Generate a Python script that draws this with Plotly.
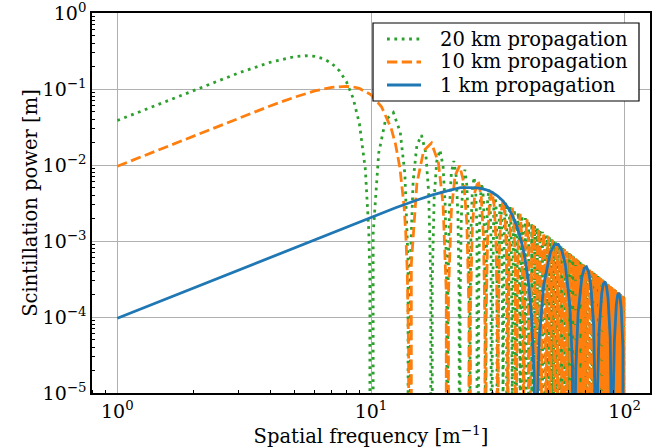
import plotly.graph_objects as go

# ---------------- data ----------------
series_names = ["20 km propagation", "10 km propagation", "1 km propagation"]
series_colors = ["#2ca02c", "#ff7f0e", "#1f77b4"]

green_freq = [
    1.0, 1.5, 2.0, 3.0, 4.0, 5.0, 5.5, 6.0, 6.5, 7.0, 7.5, 8.0, 8.5, 9.0, 9.5, 9.7, 9.8, 9.9, 9.95, 10.0,
    10.198, 10.724, 11.402, 12.247, 13.038, 13.601, 14.0, 14.142,
    14.283, 14.663, 15.166, 15.811, 16.432, 16.882, 17.205, 17.321,
    17.436, 17.748, 18.166, 18.708, 19.235, 19.621, 19.900, 20.0,
    20.100, 20.372, 20.736, 21.213, 21.680, 22.023, 22.271, 22.361,
    22.450, 22.694, 23.022, 23.452, 23.875, 24.187, 24.413, 24.495,
    24.576, 24.799, 25.100, 25.495, 25.884, 26.173, 26.382, 26.458,
    26.533, 26.740, 27.019, 27.386, 27.749, 28.018, 28.214, 28.284,
    28.355, 28.548, 28.810, 29.155, 29.496, 29.749, 29.933, 30.0,
    30.067, 30.249, 30.496, 30.822, 31.145, 31.385, 31.560, 31.623,
    31.654, 32.016, 32.404, 32.787, 33.135, 33.166,
    33.196, 33.541, 33.912, 34.278, 34.612, 34.641,
    34.669, 35.000, 35.355, 35.707, 36.028, 36.056,
    36.083, 36.400, 36.742, 37.081, 37.390, 37.417,
    37.443, 37.749, 38.079, 38.406, 38.704, 38.730,
    38.755, 39.051, 39.370, 39.686, 39.975, 40.000,
    40.025, 40.311, 40.620, 40.927, 41.207, 41.231,
    41.83, 42.426, 43.01, 43.589, 44.16, 44.721, 45.28, 45.826,
    46.37, 46.904, 47.43, 47.958, 48.48, 48.990, 49.50, 50.0,
    50.50, 50.990, 51.48, 51.962, 52.44, 52.915, 53.39, 53.852,
    54.31, 54.772, 55.23, 55.678, 56.12, 56.569, 57.01, 57.446,
    57.88, 58.310, 58.74, 59.161, 59.58, 60.0, 60.42, 60.828,
    61.24, 61.644, 62.05, 62.450, 62.85, 63.246, 63.64, 64.031,
    64.42, 64.807, 65.19, 65.574, 65.95, 66.333, 66.71, 67.082,
    67.45, 67.823, 68.19, 68.557, 68.92, 69.282, 69.64, 70.0,
    70.36, 70.711, 71.06, 71.414, 71.76, 72.111, 72.46, 72.801,
    73.14, 73.485, 73.82, 74.162, 74.50, 74.833, 75.17, 75.498,
    75.83, 76.158, 76.48, 76.811, 77.14, 77.460, 77.78, 78.102,
    78.42, 78.740, 79.06, 79.373, 79.69, 80.0, 80.31, 80.623,
    80.93, 81.240, 81.55, 81.854, 82.16, 82.462, 82.76, 83.066,
    83.37, 83.666, 83.96, 84.261, 84.56, 84.853, 85.15, 85.440,
    85.73, 86.023, 86.31, 86.603, 86.89, 87.178, 87.46, 87.750,
    88.03, 88.318, 88.60, 88.882, 89.16, 89.443, 89.72, 90.0,
    90.28, 90.554, 90.83, 91.104, 91.38, 91.652, 91.92, 92.195,
    92.47, 92.736, 93.01, 93.274, 93.54, 93.808, 94.07, 94.340,
    94.60, 94.868, 95.13, 95.394, 95.66, 95.917, 96.18, 96.437,
    96.70, 96.954, 97.21, 97.468, 97.72, 97.980, 98.23, 98.489,
    98.74, 98.995, 99.25, 99.499, 99.75, 100.0,
]
green_power = [
    0.03848, 0.06598, 0.09647, 0.1622, 0.2245, 0.2668, 0.2738, 0.2686, 0.2496, 0.2174,
    0.1740, 0.1247, 0.07595, 0.03516, 0.008762, 0.003105, 0.001365, 3.367e-4, 8.34e-5, 0,
    1.252e-3, 1.437e-2, 3.877e-2, 4.893e-2, 2.711e-2, 7.624e-3, 5.381e-4, 0,
    5.101e-4, 6.242e-3, 1.811e-2, 2.476e-2, 1.463e-2, 4.286e-3, 3.105e-4, 0,
    2.997e-4, 3.751e-3, 1.119e-2, 1.581e-2, 9.610e-3, 2.870e-3, 2.106e-4, 0,
    2.051e-4, 2.597e-3, 7.864e-3, 1.131e-2, 6.987e-3, 2.109e-3, 1.561e-4, 0,
    1.527e-4, 1.947e-3, 5.951e-3, 8.655e-3, 5.401e-3, 1.643e-3, 1.221e-4, 0,
    1.200e-4, 1.537e-3, 4.726e-3, 6.928e-3, 4.354e-3, 1.331e-3, 9.93e-5, 0,
    9.78e-5, 1.257e-3, 3.885e-3, 5.724e-3, 3.617e-3, 1.110e-3, 8.30e-5, 0,
    8.19e-5, 1.056e-3, 3.272e-3, 4.843e-3, 3.073e-3, 9.460e-4, 7.09e-5, 0,
    7.01e-5, 9.051e-4, 2.812e-3, 4.176e-3, 2.658e-3, 8.202e-4, 6.16e-5, 0,
    1.532e-5, 1.887e-3, 3.654e-3, 1.770e-3, 1.356e-5, 0,
    1.350e-5, 1.666e-3, 3.237e-3, 1.572e-3, 1.207e-5, 0,
    1.202e-5, 1.487e-3, 2.896e-3, 1.410e-3, 1.085e-5, 0,
    1.080e-5, 1.339e-3, 2.614e-3, 1.275e-3, 9.83e-6, 0,
    9.80e-6, 1.216e-3, 2.376e-3, 1.161e-3, 8.97e-6, 0,
    8.93e-6, 1.111e-3, 2.175e-3, 1.064e-3, 8.23e-6, 0,
    8.20e-6, 1.021e-3, 2.000e-3, 9.80e-4, 7.59e-6, 0,
    1.849e-3, 0, 1.717e-3, 0, 1.601e-3, 0, 1.497e-3, 0,
    1.405e-3, 0, 1.323e-3, 0, 1.248e-3, 0, 1.181e-3, 0,
    1.119e-3, 0, 1.063e-3, 0, 1.012e-3, 0, 9.652e-4, 0,
    9.219e-4, 0, 8.818e-4, 0, 8.447e-4, 0, 8.102e-4, 0,
    7.781e-4, 0, 7.482e-4, 0, 7.202e-4, 0, 6.940e-4, 0,
    6.694e-4, 0, 6.463e-4, 0, 6.246e-4, 0, 6.041e-4, 0,
    5.848e-4, 0, 5.665e-4, 0, 5.492e-4, 0, 5.328e-4, 0,
    5.172e-4, 0, 5.024e-4, 0, 4.884e-4, 0, 4.750e-4, 0,
    4.622e-4, 0, 4.500e-4, 0, 4.384e-4, 0, 4.273e-4, 0,
    4.167e-4, 0, 4.065e-4, 0, 3.968e-4, 0, 3.874e-4, 0,
    3.785e-4, 0, 3.699e-4, 0, 3.616e-4, 0, 3.536e-4, 0,
    3.460e-4, 0, 3.387e-4, 0, 3.316e-4, 0, 3.247e-4, 0,
    3.181e-4, 0, 3.118e-4, 0, 3.057e-4, 0, 2.997e-4, 0,
    2.940e-4, 0, 2.885e-4, 0, 2.831e-4, 0, 2.779e-4, 0,
    2.729e-4, 0, 2.680e-4, 0, 2.633e-4, 0, 2.587e-4, 0,
    2.543e-4, 0, 2.500e-4, 0, 2.458e-4, 0, 2.417e-4, 0,
    2.378e-4, 0, 2.340e-4, 0, 2.302e-4, 0, 2.266e-4, 0,
    2.231e-4, 0, 2.197e-4, 0, 2.163e-4, 0, 2.131e-4, 0,
    2.099e-4, 0, 2.068e-4, 0, 2.038e-4, 0, 2.009e-4, 0,
    1.980e-4, 0, 1.952e-4, 0, 1.925e-4, 0, 1.898e-4, 0,
    1.872e-4, 0, 1.847e-4, 0, 1.822e-4, 0,
]

orange_freq = [
    1.0, 1.5, 2.0, 3.0, 4.0, 5.0, 6.0, 7.0, 7.5, 8.0, 8.5, 9.0, 10.0, 11.0, 12.0, 12.5,
    13.0, 13.5, 13.7, 13.9, 14.07, 14.142,
    14.422, 15.166, 16.125, 17.321, 18.439, 19.235, 19.799, 20.000,
    20.199, 20.736, 21.448, 22.361, 23.238, 23.875, 24.331, 24.495,
    24.658, 25.100, 25.690, 26.458, 27.203, 27.749, 28.142, 28.284,
    28.425, 28.810, 29.326, 30.000, 30.659, 31.145, 31.496, 31.623,
    31.749, 32.094, 32.558, 33.166, 33.764, 34.205, 34.525, 34.641,
    34.756, 35.071, 35.496, 36.056, 36.606, 37.014, 37.310, 37.417,
    37.470, 38.079, 38.730, 39.370, 39.950, 40.000,
    40.050, 40.620, 41.231, 41.833, 42.379, 42.426,
    42.473, 43.012, 43.589, 44.159, 44.676, 44.721,
    44.766, 45.277, 45.826, 46.368, 46.861, 46.904,
    46.947, 47.434, 47.958, 48.477, 48.949, 48.990,
    49.031, 49.497, 50.000, 50.498, 50.951, 50.990,
    51.029, 51.478, 51.962, 52.440, 52.877, 52.915,
    52.953, 53.385, 53.852, 54.314, 54.735, 54.772,
    54.809, 55.227, 55.678, 56.125, 56.534, 56.569,
    56.604, 57.009, 57.446, 57.879, 58.276, 58.310,
    59.161, 60.0, 60.828, 61.644, 62.450, 63.246, 64.031, 64.807,
    65.574, 66.333, 67.082, 67.823, 68.557, 69.282, 70.0, 70.711,
    71.414, 72.111, 72.801, 73.485, 74.162, 74.833, 75.498, 76.158,
    76.811, 77.460, 78.102, 78.740, 79.373, 80.0, 80.623, 81.240,
    81.854, 82.462, 83.066, 83.666, 84.261, 84.853, 85.440, 86.023,
    86.603, 87.178, 87.750, 88.318, 88.882, 89.443, 90.0, 90.554,
    91.104, 91.652, 92.195, 92.736, 93.274, 93.808, 94.340, 94.868,
    95.394, 95.917, 96.437, 96.954, 97.468, 97.980, 98.489, 98.995,
    99.499, 100.0,
]
orange_power = [
    9.623e-3, 1.652e-2, 2.422e-2, 4.136e-2, 5.983e-2, 7.814e-2, 9.421e-2, 0.1053, 0.1081, 0.1086,
    0.1065, 0.1018, 0.08403, 0.05833, 0.03068, 0.01866, 9.141e-3, 2.859e-3, 1.340e-3, 3.961e-4,
    3.453e-5, 0,
    4.971e-4, 5.705e-3, 1.538e-2, 1.942e-2, 1.076e-2, 3.026e-3, 2.135e-4, 0,
    2.025e-4, 2.476e-3, 7.189e-3, 9.827e-3, 5.806e-3, 1.701e-3, 1.232e-4, 0,
    1.189e-4, 1.488e-3, 4.442e-3, 6.276e-3, 3.814e-3, 1.139e-3, 8.36e-5, 0,
    8.14e-5, 1.031e-3, 3.121e-3, 4.488e-3, 2.772e-3, 8.372e-4, 6.19e-5, 0,
    6.06e-5, 7.728e-4, 2.362e-3, 3.435e-3, 2.144e-3, 6.521e-4, 4.85e-5, 0,
    4.76e-5, 6.100e-4, 1.876e-3, 2.749e-3, 1.728e-3, 5.282e-4, 3.94e-5, 0,
    9.75e-6, 1.187e-3, 2.272e-3, 1.086e-3, 8.22e-6, 0,
    8.17e-6, 9.99e-4, 1.922e-3, 9.242e-4, 7.03e-6, 0,
    6.99e-6, 8.582e-4, 1.657e-3, 8.002e-4, 6.11e-6, 0,
    6.08e-6, 7.482e-4, 1.450e-3, 7.024e-4, 5.38e-6, 0,
    5.35e-6, 6.613e-4, 1.285e-3, 6.239e-4, 4.79e-6, 0,
    4.77e-6, 5.902e-4, 1.149e-3, 5.595e-4, 4.31e-6, 0,
    4.29e-6, 5.315e-4, 1.037e-3, 5.059e-4, 3.90e-6, 0,
    3.89e-6, 4.825e-4, 9.430e-4, 4.608e-4, 3.56e-6, 0,
    3.55e-6, 4.408e-4, 8.629e-4, 4.221e-4, 3.26e-6, 0,
    3.25e-6, 4.049e-4, 7.938e-4, 3.889e-4, 3.01e-6, 0,
    7.339e-4, 0, 6.815e-4, 0, 6.352e-4, 0, 5.943e-4, 0,
    5.577e-4, 0, 5.249e-4, 0, 4.953e-4, 0, 4.685e-4, 0,
    4.441e-4, 0, 4.219e-4, 0, 4.016e-4, 0, 3.829e-4, 0,
    3.658e-4, 0, 3.499e-4, 0, 3.351e-4, 0, 3.215e-4, 0,
    3.087e-4, 0, 2.968e-4, 0, 2.857e-4, 0, 2.754e-4, 0,
    2.656e-4, 0, 2.565e-4, 0, 2.479e-4, 0, 2.398e-4, 0,
    2.321e-4, 0, 2.248e-4, 0, 2.179e-4, 0, 2.114e-4, 0,
    2.053e-4, 0, 1.994e-4, 0, 1.938e-4, 0, 1.885e-4, 0,
    1.835e-4, 0,
]

blue_freq = [
    1.0, 2.0, 5.0, 10.0, 12.5, 15.0, 17.5, 20.0, 22.5, 24.0, 25.0, 26.0, 27.0, 28.5, 30.0,
    31.5, 33.0, 34.5, 36.0, 37.5, 39.0, 40.0, 41.0, 42.0, 43.0, 43.5, 44.0, 44.721,
    45.166, 46.043, 47.958, 50.990, 52.915, 54.772, 56.569, 58.310, 60.828, 62.290, 62.929, 63.246,
    63.561, 64.187, 65.574, 67.823, 69.282, 70.711, 72.111, 73.485, 75.498, 76.681, 77.201, 77.460,
    77.717, 78.230, 79.373, 81.240, 82.462, 83.666, 84.853, 86.023, 87.750, 88.769, 89.219, 89.443,
    89.666, 90.111, 91.104, 92.736, 93.808, 94.868, 95.917, 96.954, 98.489, 99.398, 99.800, 100.0,
]
blue_power = [
    9.623e-5, 2.425e-4, 8.228e-4, 2.056e-3, 2.736e-3, 3.414e-3, 4.045e-3, 4.572e-3, 5.024e-3,
    5.032e-3, 5.047e-3, 5.012e-3, 4.930e-3, 4.716e-3, 4.378e-3, 3.940e-3, 3.414e-3, 2.827e-3,
    2.205e-3, 1.597e-3, 1.042e-3, 7.200e-4, 4.503e-4, 2.402e-4, 9.486e-5, 4.727e-5, 1.628e-5, 0,
    5.94e-6, 5.028e-5, 2.647e-4, 7.140e-4, 8.939e-4, 9.014e-4, 7.478e-4, 4.993e-4, 1.405e-4, 2.246e-5, 2.45e-6, 0,
    2.39e-6, 2.073e-5, 1.149e-4, 3.337e-4, 4.357e-4, 4.561e-4, 3.915e-4, 2.694e-4, 7.895e-5, 1.290e-5, 1.42e-6, 0,
    1.40e-6, 1.223e-5, 6.908e-5, 2.062e-4, 2.738e-4, 2.912e-4, 2.537e-4, 1.770e-4, 5.285e-5, 8.73e-6, 9.7e-7, 0,
    9.5e-7, 8.39e-6, 4.783e-5, 1.449e-4, 1.941e-4, 2.083e-4, 1.830e-4, 1.287e-4, 3.885e-5, 6.46e-6, 7.3e-7, 0,
]

x_tick_vals = [1, 10, 100]
x_tick_text = ["10<sup>0</sup>", "10<sup>1</sup>", "10<sup>2</sup>"]
y_tick_vals = [1e-5, 1e-4, 1e-3, 1e-2, 1e-1, 1]
y_tick_text = ["10<sup>\u22125</sup>", "10<sup>\u22124</sup>", "10<sup>\u22123</sup>",
               "10<sup>\u22122</sup>", "10<sup>\u22121</sup>", "10<sup>0</sup>"]
x_minor_vals = [0.8, 0.9] + [m * d for d in (1, 10) for m in range(2, 10)]
y_minor_vals = [m * 10.0 ** e for e in range(-5, 0) for m in range(2, 10)]

x_title = "Spatial frequency [m<sup>\u22121</sup>]"
y_title = "Scintillation power [m]"

# ---------------- figure ----------------
FONT = "DejaVu Serif"
FS_TITLE = 19.5
FS_TICK = 19
FS_LEG = 19.5
LW = 2.78
dashes = [f"{LW:.2f}px,{1.65 * LW:.2f}px", f"{3.7 * LW:.2f}px,{1.6 * LW:.2f}px", "solid"]

fig = go.Figure()
for name, color, dash, xs, ys in zip(series_names, series_colors, dashes,
                                     [green_freq, orange_freq, blue_freq],
                                     [green_power, orange_power, blue_power]):
    fig.add_trace(go.Scatter(x=xs, y=ys, mode="lines", name=name, showlegend=False,
                             line=dict(color=color, width=LW, dash=dash)))

axis_common = dict(
    type="log", showgrid=True, gridcolor="#b0b0b0", gridwidth=1.1,
    showline=True, linecolor="black", linewidth=1.6, mirror=True,
    ticks="", zeroline=False, automargin=False, ticklabeloverflow="allow",
    tickfont=dict(family=FONT, size=FS_TICK, color="black"),
)
fig.update_xaxes(
    **axis_common, range=[-0.1, 2.1], tickmode="array",
    tickvals=x_tick_vals, ticktext=x_tick_text,
    minor=dict(tickmode="array", tickvals=x_minor_vals, ticks="inside",
               ticklen=3.5, tickwidth=1, tickcolor="black", showgrid=False),
    title=dict(text=x_title, font=dict(family=FONT, size=FS_TITLE, color="black"), standoff=1),
)
fig.update_yaxes(
    **axis_common, range=[-5, 0], tickmode="array",
    tickvals=y_tick_vals, ticktext=y_tick_text,
    minor=dict(tickmode="array", tickvals=y_minor_vals, ticks="inside",
               ticklen=3.5, tickwidth=1, tickcolor="black", showgrid=False),
    title=dict(text=y_title, font=dict(family=FONT, size=FS_TITLE, color="black"), standoff=0),
)

# framed key in the upper right, positioned like the reference legend
plot_l, plot_r, plot_t, plot_b = 92, 650, 13, 393
def px_x(p):
    return (p - plot_l) / (plot_r - plot_l)
def px_y(p):
    return (plot_b - p) / (plot_b - plot_t)

shapes = [dict(type="rect", xref="paper", yref="paper",
               x0=px_x(373), x1=px_x(639), y0=px_y(101), y1=px_y(23),
               line=dict(color="black", width=1.2), fillcolor="white", layer="above")]
annotations = []
row_y = [39.0, 62.0, 85.0]
for name, color, dash, ry in zip(series_names, series_colors, dashes, row_y):
    shapes.append(dict(type="line", xref="paper", yref="paper",
                       x0=px_x(387), x1=px_x(421), y0=px_y(ry), y1=px_y(ry),
                       line=dict(color=color, width=LW, dash=dash), layer="above"))
    annotations.append(dict(xref="paper", yref="paper", x=px_x(439), y=px_y(ry),
                            xanchor="left", yanchor="middle", showarrow=False, borderpad=0,
                            text=name, font=dict(family=FONT, size=FS_LEG, color="black")))

fig.update_layout(
    width=670, height=448,
    margin=dict(l=plot_l, r=670 - plot_r, t=plot_t, b=448 - plot_b),
    plot_bgcolor="white", paper_bgcolor="white",
    shapes=shapes, annotations=annotations,
    font=dict(family=FONT, size=FS_TITLE, color="black"),
)

fig.write_html("out.html")
